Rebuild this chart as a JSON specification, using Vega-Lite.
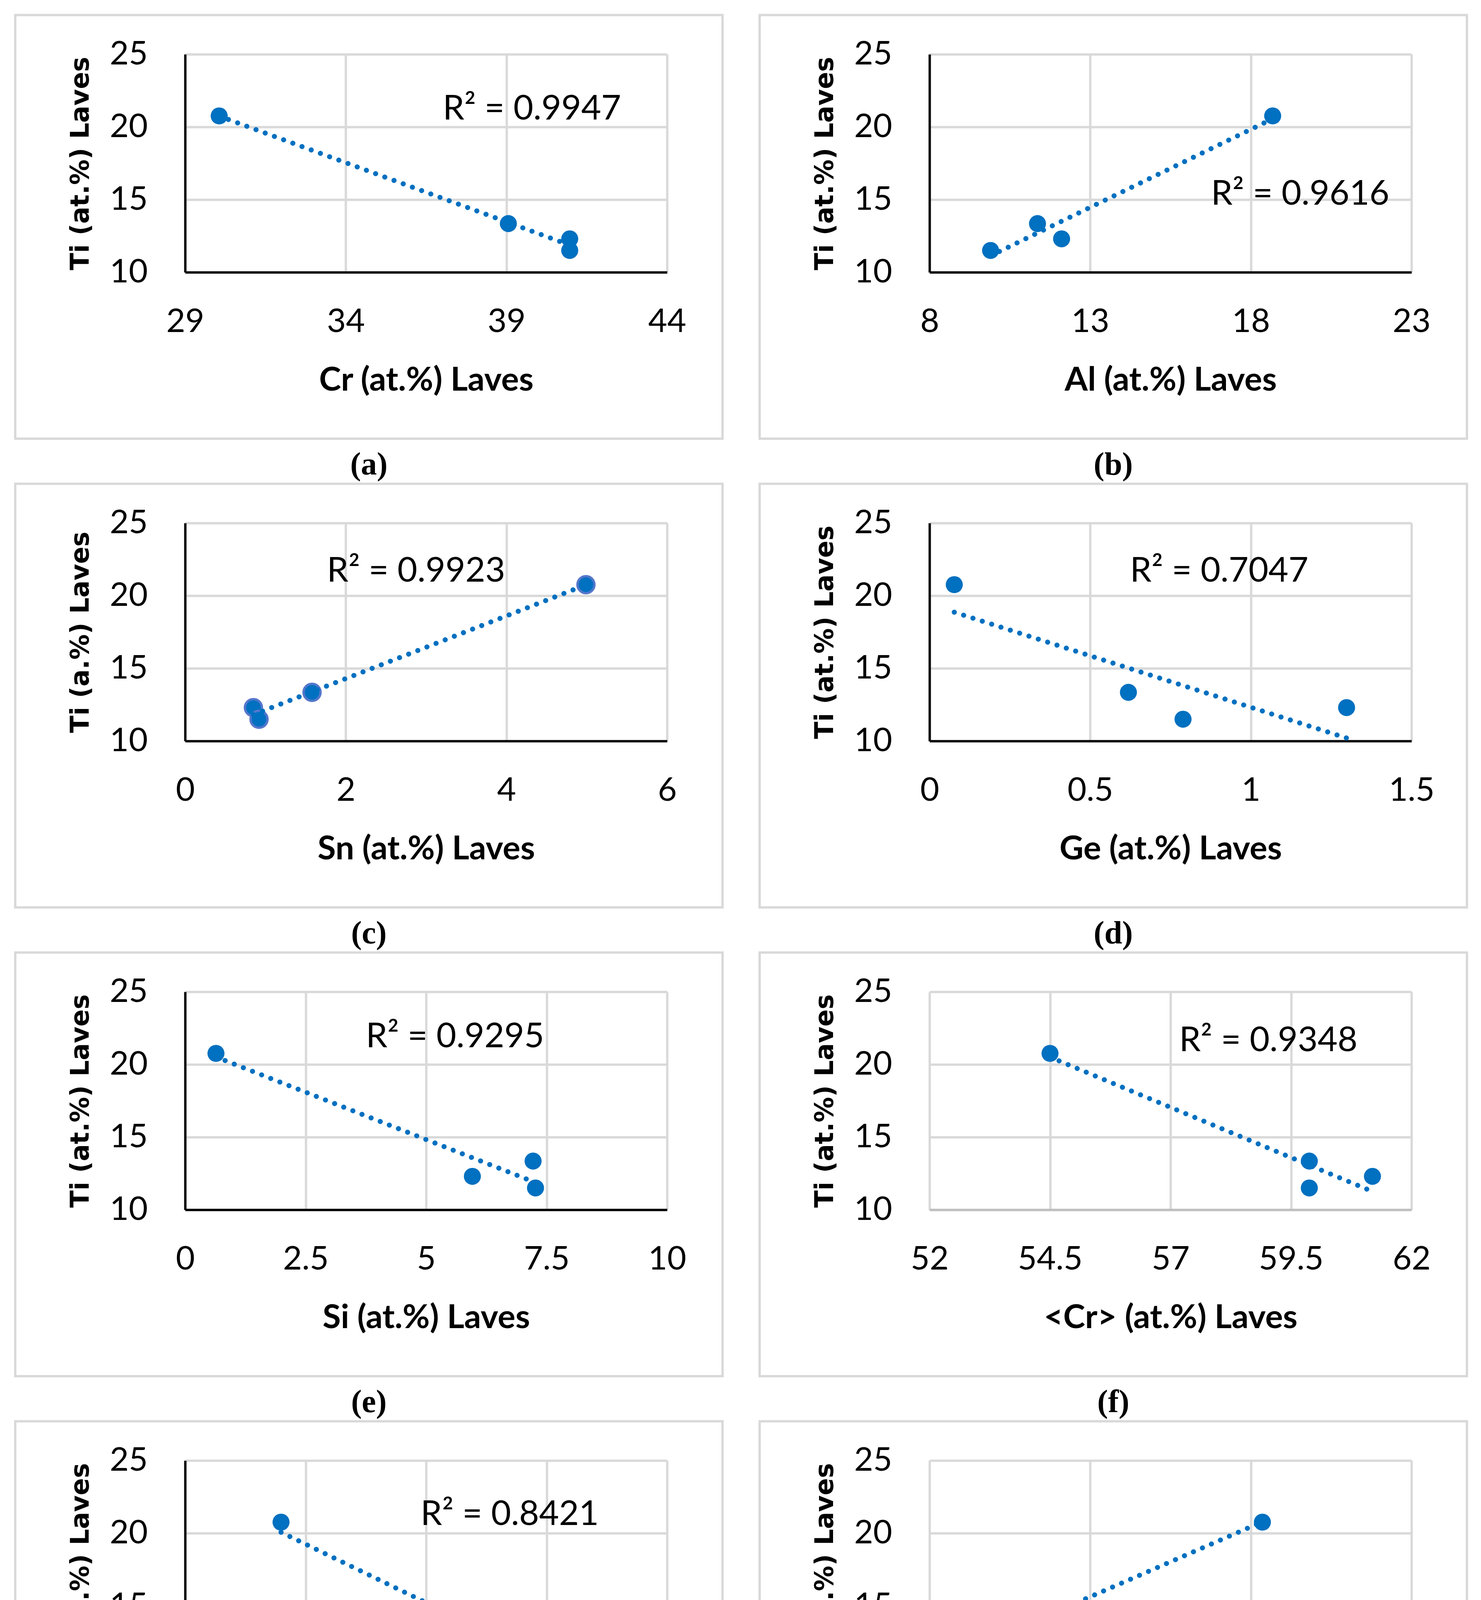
{
  "$schema": "https://vega.github.io/schema/vega-lite/v6.json",
  "background": "white",
  "padding": {"left": 35, "top": 35, "right": 34, "bottom": 10},
  "columns": 2,
  "bounds": "flush",
  "spacing": {"row": 642, "column": 672},
  "datasets": {
    "a": [{"x": 30.06, "ti": 20.76}, {"x": 39.06, "ti": 13.35}, {"x": 40.97, "ti": 12.3}, {"x": 40.97, "ti": 11.5}],
    "b": [{"x": 18.68, "ti": 20.76}, {"x": 11.36, "ti": 13.35}, {"x": 12.11, "ti": 12.3}, {"x": 9.9, "ti": 11.5}],
    "c": [{"x": 4.99, "ti": 20.76}, {"x": 1.58, "ti": 13.35}, {"x": 0.85, "ti": 12.3}, {"x": 0.92, "ti": 11.5}],
    "d": [{"x": 0.077, "ti": 20.76}, {"x": 0.619, "ti": 13.35}, {"x": 1.298, "ti": 12.3}, {"x": 0.789, "ti": 11.5}],
    "e": [{"x": 0.64, "ti": 20.76}, {"x": 7.22, "ti": 13.35}, {"x": 5.96, "ti": 12.3}, {"x": 7.27, "ti": 11.5}],
    "f": [{"x": 54.5, "ti": 20.76}, {"x": 59.88, "ti": 13.35}, {"x": 61.19, "ti": 12.3}, {"x": 59.88, "ti": 11.5}],
    "g": [{"x": 0.398, "ti": 20.76}, {"x": 1.477, "ti": 13.35}, {"x": 1.127, "ti": 12.3}, {"x": 1.367, "ti": 11.5}],
    "h": [{"x": 14.36, "ti": 20.76}, {"x": 5.79, "ti": 13.35}, {"x": 5.59, "ti": 12.3}, {"x": 5.5, "ti": 11.5}]
  },
  "concat": [
    {
      "width": 1234, "height": 558,
      "data": {"name": "a"},
      "encoding": {
        "x": {"field": "x", "type": "quantitative", "scale": {"domain": [29, 44], "nice": false, "zero": false}, "axis": {"values": [29, 34, 39, 44], "title": "Cr (at.%) Laves"}},
        "y": {"field": "ti", "type": "quantitative", "scale": {"domain": [10, 25], "nice": false, "zero": false}, "axis": {"values": [10, 15, 20, 25], "title": "Ti (at.%) Laves"}}
      },
      "layer": [
        {"transform": [{"filter": "datum.ti > 20"}], "mark": {"type": "rect", "filled": false, "stroke": "#d9d9d9", "strokeWidth": 6}, "encoding": {"x": {"datum": 23.712}, "x2": {"datum": 45.726}, "y": {"datum": 27.7}, "y2": {"datum": -1.452}}},
        {"mark": {"type": "circle", "size": 1900, "color": "#0070C0", "opacity": 1}},
        {"transform": [{"regression": "ti", "on": "x"}], "mark": {"type": "line", "color": "#0070C0", "strokeWidth": 13, "strokeDash": [0.1, 25], "strokeCap": "round"}, "encoding": {}},
        {"transform": [{"filter": "datum.ti > 20"}], "mark": {"type": "text", "text": "R² = 0.9947", "align": "left", "baseline": "middle", "font": "Lato", "fontSize": 88, "color": "#000"}, "encoding": {"x": {"datum": 37.02}, "y": {"datum": 21.2}}},
        {"transform": [{"filter": "datum.ti > 20"}], "mark": {"type": "text", "text": "(a)", "align": "center", "baseline": "middle", "font": "Liberation Serif", "fontSize": 82, "fontWeight": "bold", "color": "#000"}, "encoding": {"x": {"datum": 34.719}, "y": {"datum": -3.25}}}
      ]
    },
    {
      "width": 1234, "height": 558,
      "data": {"name": "b"},
      "encoding": {
        "x": {"field": "x", "type": "quantitative", "scale": {"domain": [8, 23], "nice": false, "zero": false}, "axis": {"values": [8, 13, 18, 23], "title": "Al (at.%) Laves"}},
        "y": {"field": "ti", "type": "quantitative", "scale": {"domain": [10, 25], "nice": false, "zero": false}, "axis": {"values": [10, 15, 20, 25], "title": "Ti (at.%) Laves"}}
      },
      "layer": [
        {"transform": [{"filter": "datum.ti > 20"}], "mark": {"type": "rect", "filled": false, "stroke": "#d9d9d9", "strokeWidth": 6}, "encoding": {"x": {"datum": 2.712}, "x2": {"datum": 24.726}, "y": {"datum": 27.7}, "y2": {"datum": -1.452}}},
        {"mark": {"type": "circle", "size": 1900, "color": "#0070C0", "opacity": 1}},
        {"transform": [{"regression": "ti", "on": "x"}], "mark": {"type": "line", "color": "#0070C0", "strokeWidth": 13, "strokeDash": [0.1, 25], "strokeCap": "round"}, "encoding": {}},
        {"transform": [{"filter": "datum.ti > 20"}], "mark": {"type": "text", "text": "R² = 0.9616", "align": "left", "baseline": "middle", "font": "Lato", "fontSize": 88, "color": "#000"}, "encoding": {"x": {"datum": 16.76}, "y": {"datum": 15.35}}},
        {"transform": [{"filter": "datum.ti > 20"}], "mark": {"type": "text", "text": "(b)", "align": "center", "baseline": "middle", "font": "Liberation Serif", "fontSize": 82, "fontWeight": "bold", "color": "#000"}, "encoding": {"x": {"datum": 13.719}, "y": {"datum": -3.25}}}
      ]
    },
    {
      "width": 1234, "height": 558,
      "data": {"name": "c"},
      "encoding": {
        "x": {"field": "x", "type": "quantitative", "scale": {"domain": [0, 6], "nice": false, "zero": false}, "axis": {"values": [0, 2, 4, 6], "title": "Sn (at.%) Laves"}},
        "y": {"field": "ti", "type": "quantitative", "scale": {"domain": [10, 25], "nice": false, "zero": false}, "axis": {"values": [10, 15, 20, 25], "title": "Ti (a.%) Laves"}}
      },
      "layer": [
        {"transform": [{"filter": "datum.ti > 20"}], "mark": {"type": "rect", "filled": false, "stroke": "#d9d9d9", "strokeWidth": 6}, "encoding": {"x": {"datum": -2.115}, "x2": {"datum": 6.69}, "y": {"datum": 27.7}, "y2": {"datum": -1.452}}},
        {"mark": {"type": "circle", "size": 1900, "color": "#0070C0", "opacity": 1, "stroke": "#5577cc", "strokeWidth": 6}},
        {"transform": [{"regression": "ti", "on": "x"}], "mark": {"type": "line", "color": "#0070C0", "strokeWidth": 13, "strokeDash": [0.1, 25], "strokeCap": "round"}, "encoding": {}},
        {"transform": [{"filter": "datum.ti > 20"}], "mark": {"type": "text", "text": "R² = 0.9923", "align": "left", "baseline": "middle", "font": "Lato", "fontSize": 88, "color": "#000"}, "encoding": {"x": {"datum": 1.765}, "y": {"datum": 21.67}}},
        {"transform": [{"filter": "datum.ti > 20"}], "mark": {"type": "text", "text": "(c)", "align": "center", "baseline": "middle", "font": "Liberation Serif", "fontSize": 82, "fontWeight": "bold", "color": "#000"}, "encoding": {"x": {"datum": 2.2877}, "y": {"datum": -3.25}}}
      ]
    },
    {
      "width": 1234, "height": 558,
      "data": {"name": "d"},
      "encoding": {
        "x": {"field": "x", "type": "quantitative", "scale": {"domain": [0, 1.5], "nice": false, "zero": false}, "axis": {"values": [0, 0.5, 1, 1.5], "title": "Ge (at.%) Laves"}},
        "y": {"field": "ti", "type": "quantitative", "scale": {"domain": [10, 25], "nice": false, "zero": false}, "axis": {"values": [10, 15, 20, 25], "title": "Ti (at.%) Laves"}}
      },
      "layer": [
        {"transform": [{"filter": "datum.ti > 20"}], "mark": {"type": "rect", "filled": false, "stroke": "#d9d9d9", "strokeWidth": 6}, "encoding": {"x": {"datum": -0.5288}, "x2": {"datum": 1.6726}, "y": {"datum": 27.7}, "y2": {"datum": -1.452}}},
        {"mark": {"type": "circle", "size": 1900, "color": "#0070C0", "opacity": 1}},
        {"transform": [{"regression": "ti", "on": "x"}], "mark": {"type": "line", "color": "#0070C0", "strokeWidth": 13, "strokeDash": [0.1, 25], "strokeCap": "round"}, "encoding": {}},
        {"transform": [{"filter": "datum.ti > 20"}], "mark": {"type": "text", "text": "R² = 0.7047", "align": "left", "baseline": "middle", "font": "Lato", "fontSize": 88, "color": "#000"}, "encoding": {"x": {"datum": 0.624}, "y": {"datum": 21.67}}},
        {"transform": [{"filter": "datum.ti > 20"}], "mark": {"type": "text", "text": "(d)", "align": "center", "baseline": "middle", "font": "Liberation Serif", "fontSize": 82, "fontWeight": "bold", "color": "#000"}, "encoding": {"x": {"datum": 0.5719}, "y": {"datum": -3.25}}}
      ]
    },
    {
      "width": 1234, "height": 558,
      "data": {"name": "e"},
      "encoding": {
        "x": {"field": "x", "type": "quantitative", "scale": {"domain": [0, 10], "nice": false, "zero": false}, "axis": {"values": [0, 2.5, 5, 7.5, 10], "title": "Si (at.%) Laves"}},
        "y": {"field": "ti", "type": "quantitative", "scale": {"domain": [10, 25], "nice": false, "zero": false}, "axis": {"values": [10, 15, 20, 25], "title": "Ti (at.%) Laves"}}
      },
      "layer": [
        {"transform": [{"filter": "datum.ti > 20"}], "mark": {"type": "rect", "filled": false, "stroke": "#d9d9d9", "strokeWidth": 6}, "encoding": {"x": {"datum": -3.525}, "x2": {"datum": 11.151}, "y": {"datum": 27.7}, "y2": {"datum": -1.452}}},
        {"mark": {"type": "circle", "size": 1900, "color": "#0070C0", "opacity": 1}},
        {"transform": [{"regression": "ti", "on": "x"}], "mark": {"type": "line", "color": "#0070C0", "strokeWidth": 13, "strokeDash": [0.1, 25], "strokeCap": "round"}, "encoding": {}},
        {"transform": [{"filter": "datum.ti > 20"}], "mark": {"type": "text", "text": "R² = 0.9295", "align": "left", "baseline": "middle", "font": "Lato", "fontSize": 88, "color": "#000"}, "encoding": {"x": {"datum": 3.75}, "y": {"datum": 21.88}}},
        {"transform": [{"filter": "datum.ti > 20"}], "mark": {"type": "text", "text": "(e)", "align": "center", "baseline": "middle", "font": "Liberation Serif", "fontSize": 82, "fontWeight": "bold", "color": "#000"}, "encoding": {"x": {"datum": 3.813}, "y": {"datum": -3.25}}}
      ]
    },
    {
      "width": 1234, "height": 558,
      "data": {"name": "f"},
      "encoding": {
        "x": {"field": "x", "type": "quantitative", "scale": {"domain": [52, 62], "nice": false, "zero": false}, "axis": {"values": [52, 54.5, 57, 59.5, 62], "title": "<Cr> (at.%) Laves", "domainColor": "#bfbfbf"}},
        "y": {"field": "ti", "type": "quantitative", "scale": {"domain": [10, 25], "nice": false, "zero": false}, "axis": {"values": [10, 15, 20, 25], "title": "Ti (at.%) Laves", "domain": false}}
      },
      "layer": [
        {"transform": [{"filter": "datum.ti > 20"}], "mark": {"type": "rect", "filled": false, "stroke": "#d9d9d9", "strokeWidth": 6}, "encoding": {"x": {"datum": 48.475}, "x2": {"datum": 63.151}, "y": {"datum": 27.7}, "y2": {"datum": -1.452}}},
        {"mark": {"type": "circle", "size": 1900, "color": "#0070C0", "opacity": 1}},
        {"transform": [{"regression": "ti", "on": "x"}], "mark": {"type": "line", "color": "#0070C0", "strokeWidth": 13, "strokeDash": [0.1, 25], "strokeCap": "round"}, "encoding": {}},
        {"transform": [{"filter": "datum.ti > 20"}], "mark": {"type": "text", "text": "R² = 0.9348", "align": "left", "baseline": "middle", "font": "Lato", "fontSize": 88, "color": "#000"}, "encoding": {"x": {"datum": 57.18}, "y": {"datum": 21.61}}},
        {"transform": [{"filter": "datum.ti > 20"}], "mark": {"type": "text", "text": "(f)", "align": "center", "baseline": "middle", "font": "Liberation Serif", "fontSize": 82, "fontWeight": "bold", "color": "#000"}, "encoding": {"x": {"datum": 55.813}, "y": {"datum": -3.25}}}
      ]
    },
    {
      "width": 1234, "height": 558,
      "data": {"name": "g"},
      "encoding": {
        "x": {"field": "x", "type": "quantitative", "scale": {"domain": [0, 2], "nice": false, "zero": false}, "axis": {"values": [0, 0.5, 1, 1.5, 2], "title": "Hf (at.%) Laves"}},
        "y": {"field": "ti", "type": "quantitative", "scale": {"domain": [10, 25], "nice": false, "zero": false}, "axis": {"values": [10, 15, 20, 25], "title": "Ti (at.%) Laves"}}
      },
      "layer": [
        {"transform": [{"filter": "datum.ti > 20"}], "mark": {"type": "rect", "filled": false, "stroke": "#d9d9d9", "strokeWidth": 6}, "encoding": {"x": {"datum": -0.705}, "x2": {"datum": 2.23}, "y": {"datum": 27.7}, "y2": {"datum": -1.452}}},
        {"mark": {"type": "circle", "size": 1900, "color": "#0070C0", "opacity": 1}},
        {"transform": [{"regression": "ti", "on": "x"}], "mark": {"type": "line", "color": "#0070C0", "strokeWidth": 13, "strokeDash": [0.1, 25], "strokeCap": "round"}, "encoding": {}},
        {"transform": [{"filter": "datum.ti > 20"}], "mark": {"type": "text", "text": "R² = 0.8421", "align": "left", "baseline": "middle", "font": "Lato", "fontSize": 88, "color": "#000"}, "encoding": {"x": {"datum": 0.977}, "y": {"datum": 21.26}}},
        {"transform": [{"filter": "datum.ti > 20"}], "mark": {"type": "text", "text": "(g)", "align": "center", "baseline": "middle", "font": "Liberation Serif", "fontSize": 82, "fontWeight": "bold", "color": "#000"}, "encoding": {"x": {"datum": 0.7626}, "y": {"datum": -3.3}}}
      ]
    },
    {
      "width": 1234, "height": 558,
      "data": {"name": "h"},
      "encoding": {
        "x": {"field": "x", "type": "quantitative", "scale": {"domain": [4, 19], "nice": false, "zero": false}, "axis": {"values": [4, 9, 14, 19], "title": "Mo (at.%) Laves", "domainColor": "#bfbfbf"}},
        "y": {"field": "ti", "type": "quantitative", "scale": {"domain": [10, 25], "nice": false, "zero": false}, "axis": {"values": [10, 15, 20, 25], "title": "Ti (at.%) Laves", "domain": false}}
      },
      "layer": [
        {"transform": [{"filter": "datum.ti > 20"}], "mark": {"type": "rect", "filled": false, "stroke": "#d9d9d9", "strokeWidth": 6}, "encoding": {"x": {"datum": -1.288}, "x2": {"datum": 20.726}, "y": {"datum": 27.7}, "y2": {"datum": -1.452}}},
        {"mark": {"type": "circle", "size": 1900, "color": "#0070C0", "opacity": 1}},
        {"transform": [{"regression": "ti", "on": "x"}], "mark": {"type": "line", "color": "#0070C0", "strokeWidth": 13, "strokeDash": [0.1, 25], "strokeCap": "round"}, "encoding": {}},
        {"transform": [{"filter": "datum.ti > 20"}], "mark": {"type": "text", "text": "R² = 0.9778", "align": "left", "baseline": "middle", "font": "Lato", "fontSize": 88, "color": "#000"}, "encoding": {"x": {"datum": 12.69}, "y": {"datum": 14.11}}},
        {"transform": [{"filter": "datum.ti > 20"}], "mark": {"type": "text", "text": "(h)", "align": "center", "baseline": "middle", "font": "Liberation Serif", "fontSize": 82, "fontWeight": "bold", "color": "#000"}, "encoding": {"x": {"datum": 9.719}, "y": {"datum": -3.3}}}
      ]
    }
  ],
  "config": {
    "view": {"stroke": null},
    "axis": {
      "grid": true,
      "gridColor": "#d9d9d9",
      "gridWidth": 6,
      "ticks": false,
      "domainColor": "#000000",
      "domainWidth": 6,
      "labelExpr": "'' + datum.value",
      "labelFont": "Lato",
      "labelFontSize": 84,
      "labelColor": "#000000",
      "labelFlush": false,
      "labelOverlap": false,
      "titleColor": "#000000"
    },
    "axisX": {
      "labelPadding": 86,
      "titlePadding": 66,
      "titleFont": "Lato",
      "titleFontSize": 85,
      "titleFontWeight": "bold"
    },
    "axisY": {
      "labelPadding": 96,
      "titlePadding": 40,
      "titleFont": "DejaVu Sans",
      "titleFontSize": 65,
      "titleFontWeight": "bold"
    }
  }
}
